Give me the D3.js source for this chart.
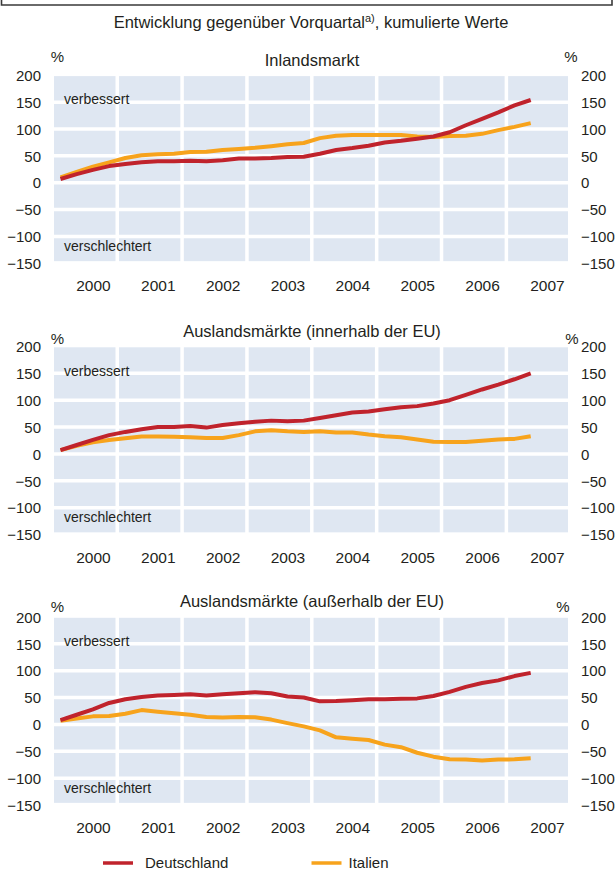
<!DOCTYPE html>
<html><head><meta charset="utf-8">
<script src="https://cdn.jsdelivr.net/npm/d3@7"></script>
<style>
body{margin:0;background:#fff}
svg{display:block;font-family:"Liberation Sans",Arial,Helvetica,sans-serif}
</style>
</head><body>
<svg id="chart" width="615" height="872"></svg>
<script>
// ---------- DATA ----------
const quarters = [
  "2000Q1","2000Q2","2000Q3","2000Q4","2001Q1","2001Q2","2001Q3","2001Q4",
  "2002Q1","2002Q2","2002Q3","2002Q4","2003Q1","2003Q2","2003Q3","2003Q4",
  "2004Q1","2004Q2","2004Q3","2004Q4","2005Q1","2005Q2","2005Q3","2005Q4",
  "2006Q1","2006Q2","2006Q3","2006Q4","2007Q1","2007Q2"];
const yearLabels = ["2000","2001","2002","2003","2004","2005","2006","2007"];
const yTicks = [200,150,100,50,0,-50,-100,-150];
const seriesNames = ["Deutschland","Italien"];
const panelTitles = ["Inlandsmarkt","Auslandsmärkte (innerhalb der EU)","Auslandsmärkte (außerhalb der EU)"];

const inlandDE = [7,16,24,31,35,38,40,40,41,40,42,45,45,46,48,48.5,54,61,64.5,69,75,78,82,86,94,107,119,131,144,154];
const inlandIT = [10,20,30,38,46,51,53,54,57,57.5,61,63,65,68,71.5,74,83,87.5,89,89,89,89,86,85,87,87.5,91,98,104,111];
const euDE = [7,16.6,26,35,41,46,50,50,52,49,54,57,60,62,61,62,67,72,77,79,83,87,89,94,100,110,120,129,139,150];
const euIT = [7,15,21.5,26,29,32.5,32.5,32,31,29.5,29.5,35,42,44,42,41,42,40,40,36,33,31,27,22.7,22,22,24.5,27,28,33];
const nonEuDE = [8,18,28,40,47,51,54,55,56,54,56,58,60,58,52,50,43,43.6,45,47,46.7,48,48.5,53,60.6,70,77,82,90,96];
const nonEuIT = [6.7,11,15,15.8,20,26.7,23.6,21,18,14,12.7,14,13.3,9,2.4,-3.6,-11,-24,-26.7,-29,-37.6,-42.4,-52.7,-60,-64.8,-65.5,-67,-65.5,-65,-63];

const panelData = [[inlandDE,inlandIT],[euDE,euIT],[nonEuDE,nonEuIT]];

// ---------- LAYOUT / STYLE ----------
const colors = ["#c0232c","#f7a31c"];
const textColor = "#231f20";
const bgColor = "#dfe7f2";
const plotLeft = 54, plotRight = 568;
const panelTop = [75.3, 346.5, 617];   // y position of value 200
const panelH = 188;                    // 200 .. -150
const titleY = [60, 331.7, 601.7];
const pctY = [57, 338.3, 606.7];
const pctRightX = [571, 572, 563];
const legendY = 863;

const svg = d3.select("#chart");

// frame remnant at top
svg.append("path").attr("d","M1.5,0V5H612V0")
  .attr("fill","none").attr("stroke","#3a3a3a").attr("stroke-width",1.6);

// main title
const mt = svg.append("text").attr("x",311).attr("y",28)
  .attr("text-anchor","middle").attr("font-size",16.5).attr("fill",textColor);
mt.append("tspan").text("Entwicklung gegenüber Vorquartal");
mt.append("tspan").attr("font-size",11).attr("dy",-6).text("a)");
mt.append("tspan").attr("dy",6).text(", kumulierte Werte");

const x = d3.scaleLinear().domain([-0.4, 31.3]).range([plotLeft, plotRight]);
const yearIdx = yearLabels.map(d=>quarters.indexOf(d+"Q1") + 2);
const yearBounds = yearLabels.slice(1).map(d=>quarters.indexOf(d+"Q1") - 0.5);

panelData.forEach((series, p) => {
  const y = d3.scaleLinear().domain([-150,200]).range([panelTop[p]+panelH, panelTop[p]]);
  const g = svg.append("g");

  // background
  g.append("rect").attr("x",plotLeft).attr("y",y(200)+0.8)
    .attr("width",plotRight-plotLeft).attr("height",y(-146)-y(200)-0.8)
    .attr("fill",bgColor);

  // white grid
  g.selectAll("line.h").data(yTicks.filter(v=>v<200 && v>-150)).join("line")
    .attr("x1",plotLeft).attr("x2",plotRight)
    .attr("y1",d=>y(d)).attr("y2",d=>y(d))
    .attr("stroke","#fff").attr("stroke-width",3.5);
  g.selectAll("line.v").data(yearBounds).join("line")
    .attr("x1",d=>x(d)).attr("x2",d=>x(d))
    .attr("y1",y(200)).attr("y2",y(-150))
    .attr("stroke","#fff").attr("stroke-width",3.5);

  // axes (labels only)
  const axL = d3.axisLeft(y).tickValues(yTicks).tickSize(0).tickPadding(0);
  const gl = g.append("g").attr("transform",`translate(41,0)`).call(axL);
  gl.select(".domain").remove();
  gl.selectAll("text").attr("font-size",15).attr("fill",textColor)
    .attr("font-family",null).attr("dy","0.35em");
  const axR = d3.axisRight(y).tickValues(yTicks).tickSize(0).tickPadding(0);
  const gr = g.append("g").attr("transform",`translate(581,0)`).call(axR);
  gr.select(".domain").remove();
  gr.selectAll("text").attr("font-size",15).attr("fill",textColor)
    .attr("font-family",null).attr("dy","0.35em");

  const axB = d3.axisBottom(x).tickValues(yearIdx).tickFormat((d,i)=>yearLabels[i]).tickSize(0).tickPadding(0);
  const gb = g.append("g").attr("transform",`translate(0,${panelTop[p]+205})`).call(axB);
  gb.select(".domain").remove();
  gb.selectAll("text").attr("font-size",15.5).attr("fill",textColor)
    .attr("font-family",null);

  // annotations
  g.append("text").attr("x",64).attr("y",y(155)).attr("dy","0.35em")
    .attr("font-size",14).attr("fill",textColor).text("verbessert");
  g.append("text").attr("x",64).attr("y",y(-118)).attr("dy","0.35em")
    .attr("font-size",14).attr("fill",textColor).text("verschlechtert");

  // titles
  g.append("text").attr("x",312).attr("y",titleY[p]).attr("dy","0.35em")
    .attr("text-anchor","middle").attr("font-size",16.5).attr("fill",textColor)
    .text(panelTitles[p]);
  g.append("text").attr("x",57.5).attr("y",pctY[p]).attr("dy","0.35em")
    .attr("text-anchor","middle").attr("font-size",15).attr("fill",textColor).text("%");
  g.append("text").attr("x",pctRightX[p]).attr("y",pctY[p]).attr("dy","0.35em")
    .attr("text-anchor","middle").attr("font-size",15).attr("fill",textColor).text("%");

  // lines
  const line = d3.line().x((d,i)=>x(i)).y(d=>y(d)).curve(d3.curveLinear);
  [1,0].forEach(s=>{
    g.append("path").datum(series[s]).attr("d",line)
      .attr("fill","none").attr("stroke",colors[s]).attr("stroke-width",4)
      .attr("stroke-linejoin","round");
  });
});

// legend
const lg = svg.append("g");
const legX = [103, 311.5];
seriesNames.forEach((n,i)=>{
  lg.append("line").attr("x1",legX[i]).attr("x2",legX[i]+30)
    .attr("y1",legendY).attr("y2",legendY).attr("stroke",colors[i]).attr("stroke-width",3.5);
  lg.append("text").attr("x",legX[i]+(i===0?42:37)).attr("y",legendY).attr("dy","0.35em")
    .attr("font-size",15).attr("fill",textColor).text(n);
});
</script>
</body></html>
